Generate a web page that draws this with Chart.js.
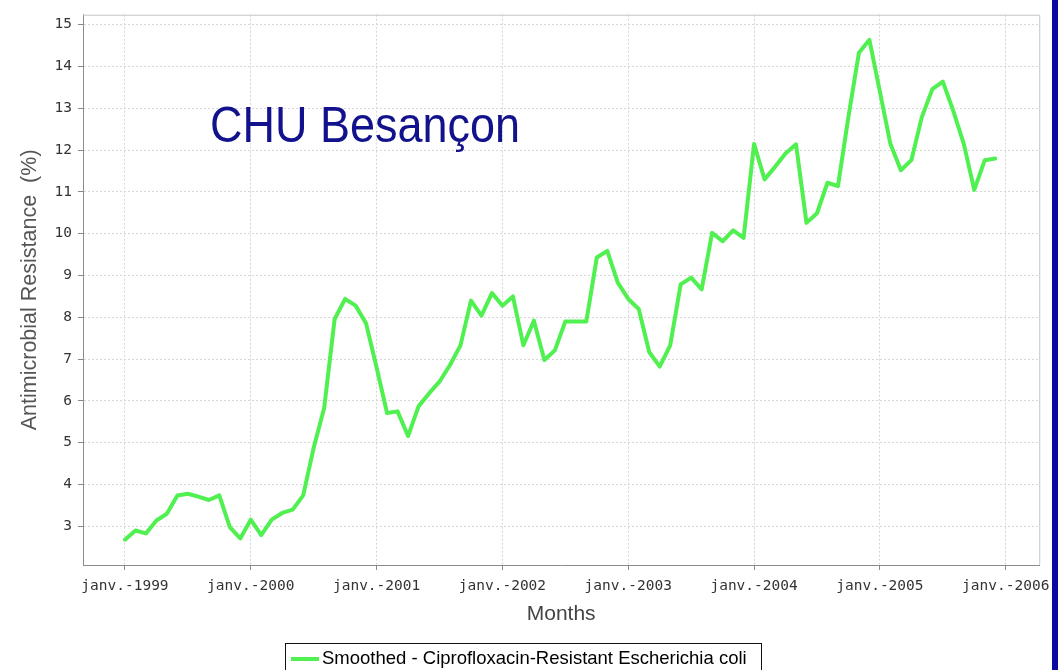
<!DOCTYPE html>
<html>
<head>
<meta charset="utf-8">
<script src="https://cdn.jsdelivr.net/npm/chart.js@4.4.1/dist/chart.umd.min.js"></script>
<style>
html,body{margin:0;padding:0;background:#fff;overflow:hidden}
#wrap{position:relative;width:1058px;height:670px;background:#fff}
#c{position:absolute;left:0;top:0}
#strip{position:absolute;left:1052px;top:0;width:6px;height:670px;background:#0a0aa0}
#title{position:absolute;left:210px;top:100px;font-family:"Liberation Sans",Arial,sans-serif;font-size:50px;line-height:50px;color:#12128c;transform-origin:0 0;white-space:nowrap}
#legend{position:absolute;left:285px;top:643px;width:477px;height:34px;border:1px solid #111;box-sizing:border-box;font-family:"Liberation Sans",Arial,sans-serif;font-size:18.5px;color:#000;white-space:nowrap}
#legend .sw{position:absolute;left:5px;top:13px;width:28px;height:4px;background:#50f050}
#legend .tx{position:absolute;left:36px;top:3px;line-height:22px}
</style>
</head>
<body>
<div id="wrap">
  <canvas id="c" width="1058" height="670"></canvas>
  <div id="title">CHU Besançon</div>
  <div id="legend"><span class="sw"></span><span class="tx" id="legtext"></span></div>
  <div id="strip"></div>
</div>
<script>
// Monthly smoothed resistance (%), Jan 1999 .. Dec 2005
const resistance = [
  2.68, 2.90, 2.83, 3.14, 3.30, 3.74, 3.78, 3.71, 3.63, 3.74, 2.98, 2.71,
  3.16, 2.79, 3.16, 3.32, 3.40, 3.74, 4.88, 5.83, 7.96, 8.44, 8.28, 7.85,
  6.80, 5.71, 5.75, 5.16, 5.87, 6.18, 6.46, 6.86, 7.33, 8.40, 8.04, 8.58,
  8.28, 8.50, 7.33, 7.92, 6.98, 7.21, 7.90, 7.90, 7.90, 9.43, 9.59, 8.83,
  8.44, 8.20, 7.17, 6.82, 7.33, 8.79, 8.95, 8.67, 10.02, 9.82, 10.08, 9.90,
  12.15, 11.30, 11.60, 11.92, 12.14, 10.26, 10.49, 11.22, 11.14, 12.80, 14.33, 14.64,
  13.40, 12.15, 11.52, 11.76, 12.79, 13.46, 13.64, 12.94, 12.15, 11.05, 11.76, 11.80
];
const xTickValues = [0, 12, 24, 36, 48, 60, 72, 84];
const xTickLabels = ['janv.-1999','janv.-2000','janv.-2001','janv.-2002','janv.-2003','janv.-2004','janv.-2005','janv.-2006'];
const yTickValues = [3, 4, 5, 6, 7, 8, 9, 10, 11, 12, 13, 14, 15];
const seriesName = 'Smoothed - Ciprofloxacin-Resistant Escherichia coli';
const lineColor = '#50f050';

document.getElementById('legtext').textContent = seriesName;
(function(){
  const t = document.getElementById('title');
  const w = t.getBoundingClientRect().width;
  t.style.transform = 'scaleX(' + (310 / w) + ')';
})();

const plotFrame = {
  id: 'plotFrame',
  beforeDatasetsDraw(chart) {
    const {ctx, chartArea: a} = chart;
    ctx.save();
    ctx.strokeStyle = '#c4c4c4';
    ctx.lineWidth = 1;
    ctx.beginPath();
    ctx.moveTo(a.left, a.top + 0.5);
    ctx.lineTo(a.right + 0.5, a.top + 0.5);
    ctx.lineTo(a.right + 0.5, a.bottom);
    ctx.stroke();
    ctx.restore();
  }
};

new Chart(document.getElementById('c'), {
  type: 'line',
  data: {
    datasets: [{
      label: seriesName,
      data: resistance.map((v, i) => ({x: i, y: v})),
      borderColor: lineColor,
      backgroundColor: lineColor,
      borderWidth: 4,
      pointRadius: 0,
      tension: 0,
      fill: false,
      borderJoinStyle: 'round',
      borderCapStyle: 'round'
    }]
  },
  options: {
    responsive: false,
    animation: false,
    devicePixelRatio: 1,
    layout: {padding: {left: 0, top: 10, right: 18, bottom: 0}},
    plugins: {legend: {display: false}, tooltip: {enabled: false}},
    scales: {
      x: {
        type: 'linear',
        min: -4,
        max: 87.2,
        afterBuildTicks: s => { s.ticks = xTickValues.map(v => ({value: v})); },
        afterFit: s => { s.height = 105; },
        ticks: {
          callback: v => xTickLabels[xTickValues.indexOf(v)],
          font: {family: 'DejaVu Sans Mono', size: 14.5},
          color: '#333',
          padding: 8,
          maxRotation: 0,
          autoSkip: false
        },
        grid: {color: '#d6d6d6', tickColor: '#888', tickLength: 5, lineWidth: 1},
        border: {color: '#8c8c8c', width: 1, dash: [2, 2]},
        title: {
          display: true,
          text: 'Months',
          font: {family: 'Liberation Sans', size: 21},
          color: '#444',
          padding: {top: 0, bottom: 43}
        }
      },
      y: {
        type: 'linear',
        min: 2.075,
        max: 15.24,
        afterBuildTicks: s => { s.ticks = yTickValues.map(v => ({value: v})); },
        afterFit: s => { s.width = 83; },
        ticks: {
          font: {family: 'DejaVu Sans Mono', size: 14.5},
          color: '#333',
          padding: 6
        },
        grid: {color: '#d6d6d6', tickColor: '#888', tickLength: 5, lineWidth: 1},
        border: {color: '#8c8c8c', width: 1, dash: [2, 2]},
        title: {
          display: true,
          text: 'Antimicrobial Resistance  (%)',
          font: {family: 'Liberation Sans', size: 21.5},
          color: '#555',
          padding: {top: 17, bottom: 0}
        }
      }
    }
  },
  plugins: [plotFrame]
});
</script>
</body>
</html>
